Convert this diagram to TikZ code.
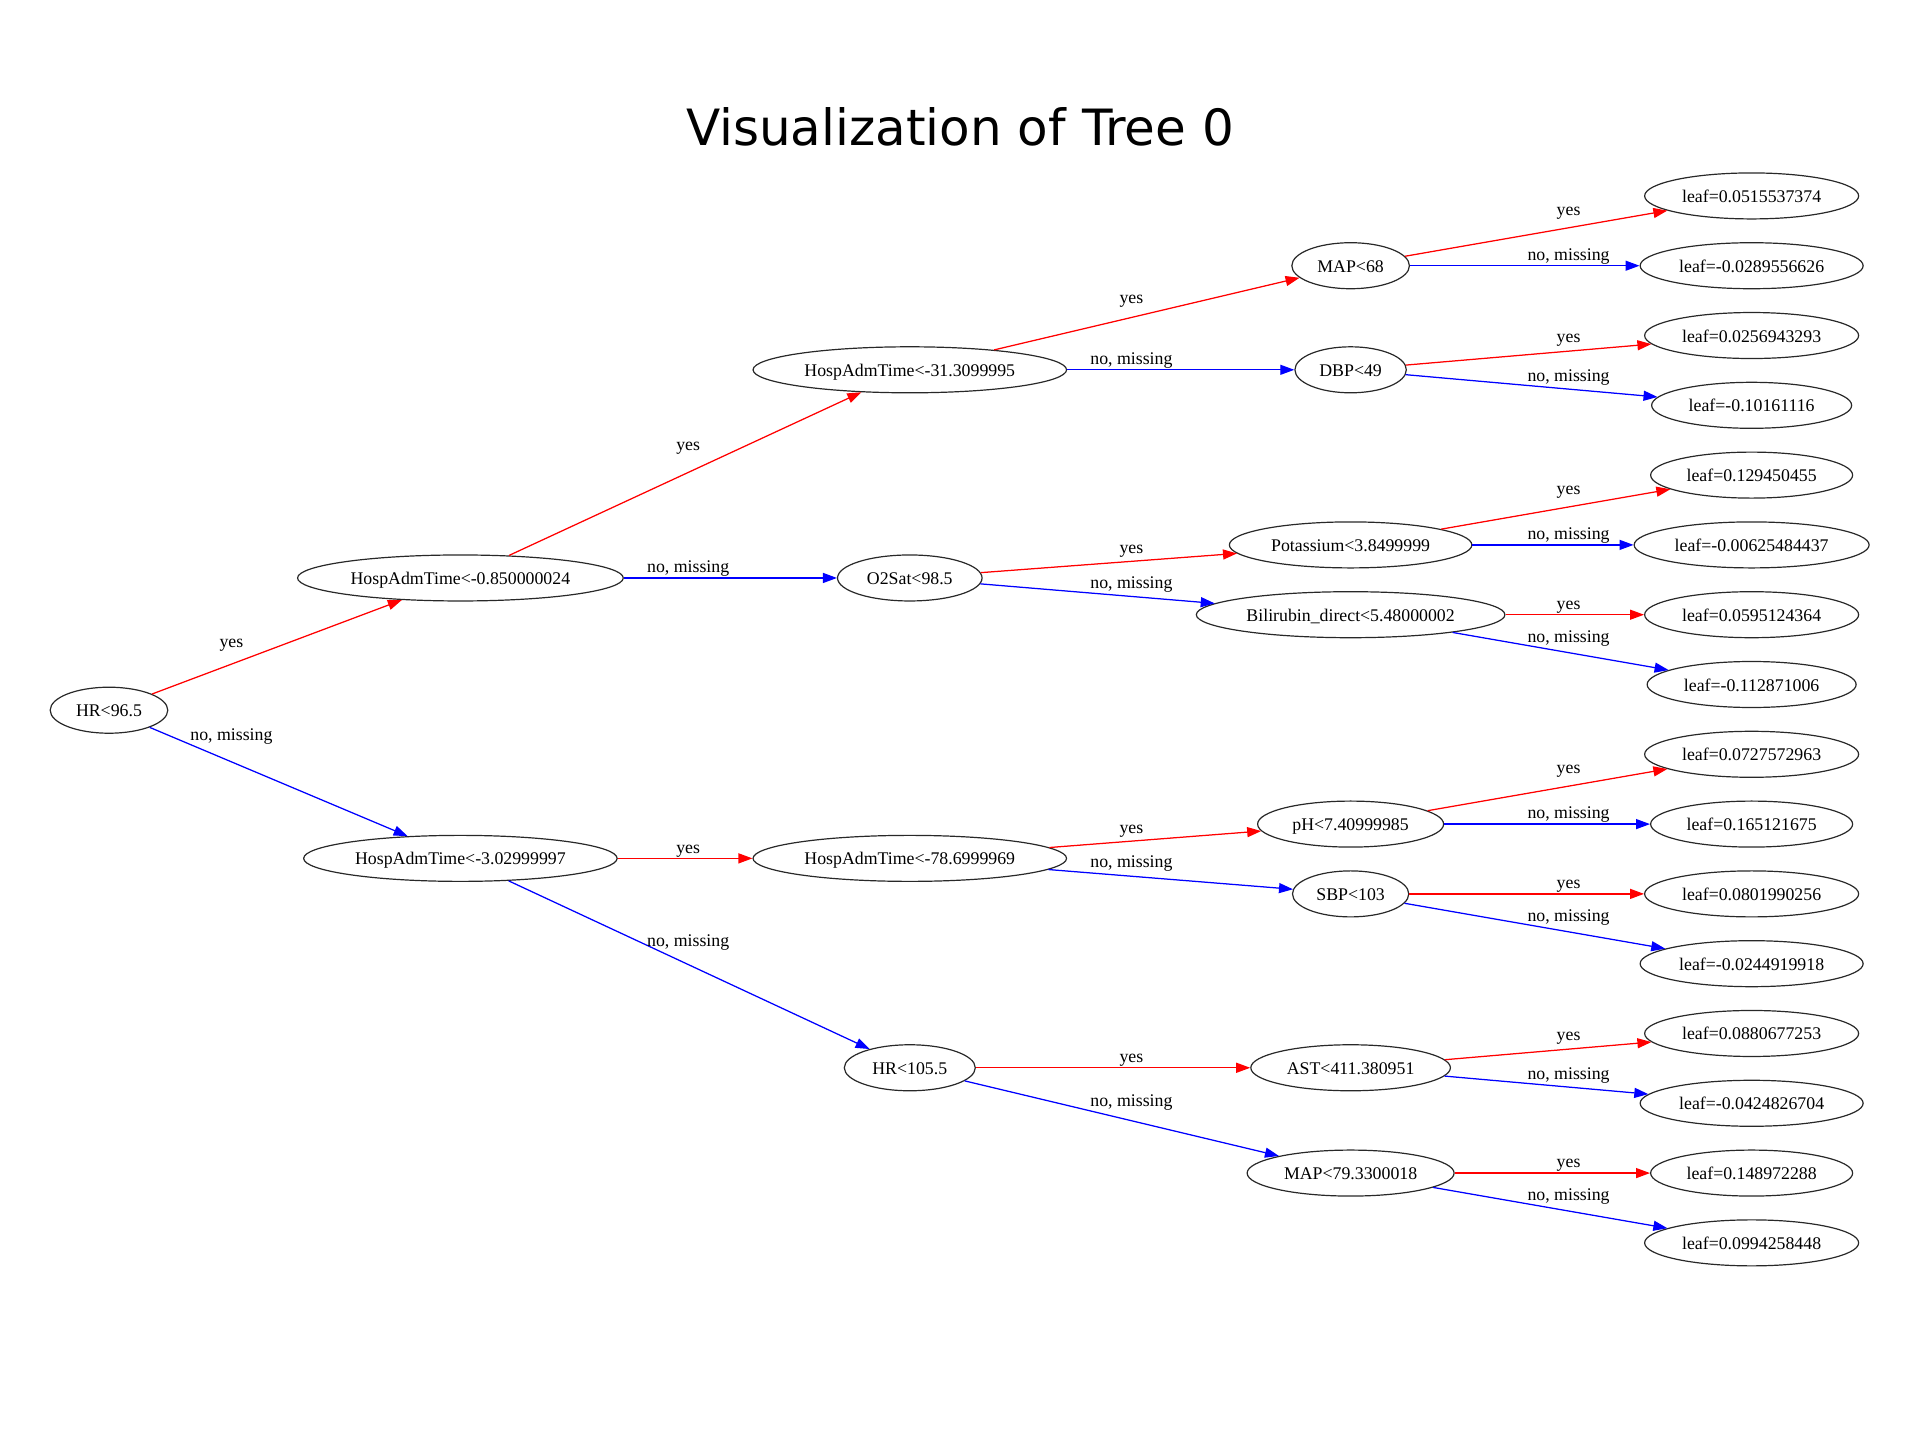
\documentclass[tikz,border=0pt]{standalone}
\usepackage{fontspec}
\setmainfont{Liberation Serif}
\newfontfamily\titlefont{DejaVu Sans}
\usetikzlibrary{shapes.geometric,arrows.meta}

\definecolor{yescol}{RGB}{255,0,0}
\definecolor{nocol}{RGB}{0,0,255}
\definecolor{outline}{RGB}{40,40,40}

\tikzset{
  split/.style={ellipse, draw=outline, line width=1.2pt, inner sep=0pt,
    minimum height=46pt, font=\fontsize{17.8pt}{20pt}\selectfont,
    text height=13.5pt, text depth=0.5pt},
  leafnode/.style={split},
  edgebase/.style={line width=1.25pt, -{Triangle[length=14pt,width=10pt]}},
  yesedge/.style={edgebase, draw=yescol, fill=yescol},
  noedge/.style={edgebase, draw=nocol, fill=nocol},
  lbl/.style={inner sep=0pt, font=\fontsize{17.8pt}{20pt}\selectfont,
    text height=12.5pt, text depth=3.5pt},
}

\begin{document}
\begin{tikzpicture}[x=1.2245pt, y=-1.2245pt]
\useasboundingbox (0,0) rectangle (1568,1176);

% title
\node[anchor=base, inner sep=0pt, font=\titlefont\fontsize{50pt}{56pt}\selectfont] (title) at (784,119) {Visualization of Tree 0};

% split nodes
\node[split, minimum width=117.6pt] (n0)  at (89,580)   {HR<96.5};
\node[split, minimum width=325.7pt] (n1)  at (376,472)  {HospAdmTime<-0.850000024};
\node[split, minimum width=313.5pt] (n2)  at (376,701)  {HospAdmTime<-3.02999997};
\node[split, minimum width=313.5pt] (n3)  at (743,302)  {HospAdmTime<-31.3099995};
\node[split, minimum width=144.5pt] (n4)  at (743,472)  {O2Sat<98.5};
\node[split, minimum width=313.5pt] (n5)  at (743,701)  {HospAdmTime<-78.6999969};
\node[split, minimum width=131pt]   (n6)  at (743,872)  {HR<105.5};
\node[split, minimum width=117.6pt] (n7)  at (1103,217) {MAP<68};
\node[split, minimum width=111.4pt] (n8)  at (1103,302) {DBP<49};
\node[split, minimum width=242.5pt] (n9)  at (1103,445) {Potassium<3.8499999};
\node[split, minimum width=308.6pt] (n10) at (1103,502) {Bilirubin\_direct<5.48000002};
\node[split, minimum width=186pt]   (n11) at (1103,673) {pH<7.40999985};
\node[split, minimum width=116.3pt] (n12) at (1103,730) {SBP<103};
\node[split, minimum width=199.6pt] (n13) at (1103,872) {AST<411.380951};
\node[split, minimum width=207pt]   (n14) at (1103,958) {MAP<79.3300018};

% leaves
\node[leafnode, minimum width=214pt] (l1)  at (1430.5,160)  {leaf=0.0515537374};
\node[leafnode, minimum width=223pt] (l2)  at (1430.5,217)  {leaf=-0.0289556626};
\node[leafnode, minimum width=214pt] (l3)  at (1430.5,274)  {leaf=0.0256943293};
\node[leafnode, minimum width=200pt] (l4)  at (1430.5,331)  {leaf=-0.10161116};
\node[leafnode, minimum width=202pt] (l5)  at (1430.5,388)  {leaf=0.129450455};
\node[leafnode, minimum width=235pt] (l6)  at (1430.5,445)  {leaf=-0.00625484437};
\node[leafnode, minimum width=214pt] (l7)  at (1430.5,502)  {leaf=0.0595124364};
\node[leafnode, minimum width=209pt] (l8)  at (1430.5,559)  {leaf=-0.112871006};
\node[leafnode, minimum width=214pt] (l9)  at (1430.5,616)  {leaf=0.0727572963};
\node[leafnode, minimum width=202pt] (l10) at (1430.5,673)  {leaf=0.165121675};
\node[leafnode, minimum width=214pt] (l11) at (1430.5,730)  {leaf=0.0801990256};
\node[leafnode, minimum width=223pt] (l12) at (1430.5,787)  {leaf=-0.0244919918};
\node[leafnode, minimum width=214pt] (l13) at (1430.5,844)  {leaf=0.0880677253};
\node[leafnode, minimum width=223pt] (l14) at (1430.5,901)  {leaf=-0.0424826704};
\node[leafnode, minimum width=202pt] (l15) at (1430.5,958)  {leaf=0.148972288};
\node[leafnode, minimum width=214pt] (l16) at (1430.5,1015) {leaf=0.0994258448};

% connectors
\draw[yesedge] (n0) -- (n1);   \draw[noedge] (n0) -- (n2);
\draw[yesedge] (n1) -- (n3);   \draw[noedge] (n1) -- (n4);
\draw[yesedge] (n2) -- (n5);   \draw[noedge] (n2) -- (n6);
\draw[yesedge] (n3) -- (n7);   \draw[noedge] (n3) -- (n8);
\draw[yesedge] (n4) -- (n9);   \draw[noedge] (n4) -- (n10);
\draw[yesedge] (n5) -- (n11);  \draw[noedge] (n5) -- (n12);
\draw[yesedge] (n6) -- (n13);  \draw[noedge] (n6) -- (n14);
\draw[yesedge] (n7) -- (l1);   \draw[noedge] (n7) -- (l2);
\draw[yesedge] (n8) -- (l3);   \draw[noedge] (n8) -- (l4);
\draw[yesedge] (n9) -- (l5);   \draw[noedge] (n9) -- (l6);
\draw[yesedge] (n10) -- (l7);  \draw[noedge] (n10) -- (l8);
\draw[yesedge] (n11) -- (l9);  \draw[noedge] (n11) -- (l10);
\draw[yesedge] (n12) -- (l11); \draw[noedge] (n12) -- (l12);
\draw[yesedge] (n13) -- (l13); \draw[noedge] (n13) -- (l14);
\draw[yesedge] (n14) -- (l15); \draw[noedge] (n14) -- (l16);

% edge labels
\node[lbl] (e1)  at (189,525)  {yes};
\node[lbl] (e2)  at (189,601)  {no, missing};
\node[lbl] (e3)  at (562,364)  {yes};
\node[lbl] (e4)  at (562,464)  {no, missing};
\node[lbl] (e5)  at (562,693)  {yes};
\node[lbl] (e6)  at (562,769)  {no, missing};
\node[lbl] (e7)  at (924,244)  {yes};
\node[lbl] (e8)  at (924,294)  {no, missing};
\node[lbl] (e9)  at (924,448)  {yes};
\node[lbl] (e10) at (924,477)  {no, missing};
\node[lbl] (e11) at (924,677)  {yes};
\node[lbl] (e12) at (924,705)  {no, missing};
\node[lbl] (e13) at (924,864)  {yes};
\node[lbl] (e14) at (924,900)  {no, missing};
\node[lbl] (e15) at (1281,172) {yes};
\node[lbl] (e16) at (1281,209) {no, missing};
\node[lbl] (e17) at (1281,276) {yes};
\node[lbl] (e18) at (1281,308) {no, missing};
\node[lbl] (e19) at (1281,400) {yes};
\node[lbl] (e20) at (1281,437) {no, missing};
\node[lbl] (e21) at (1281,494) {yes};
\node[lbl] (e22) at (1281,521) {no, missing};
\node[lbl] (e23) at (1281,628) {yes};
\node[lbl] (e24) at (1281,665) {no, missing};
\node[lbl] (e25) at (1281,722) {yes};
\node[lbl] (e26) at (1281,749) {no, missing};
\node[lbl] (e27) at (1281,846) {yes};
\node[lbl] (e28) at (1281,878) {no, missing};
\node[lbl] (e29) at (1281,950) {yes};
\node[lbl] (e30) at (1281,977) {no, missing};
\end{tikzpicture}
\end{document}
